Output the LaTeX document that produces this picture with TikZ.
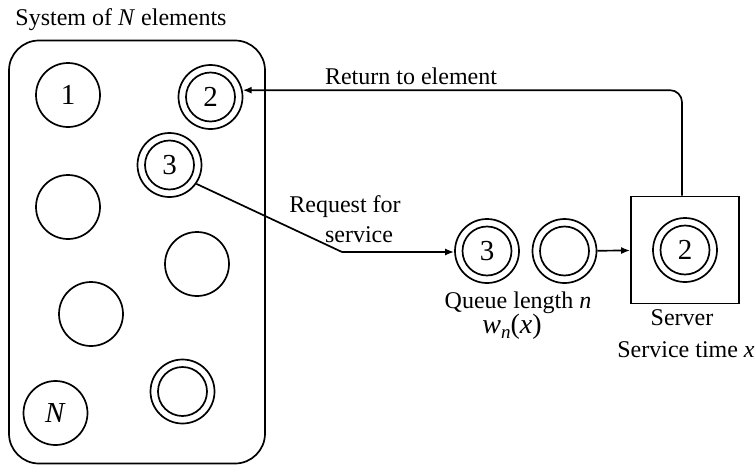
\documentclass[tikz,border=0pt]{standalone}
\usepackage{fontspec}
\setmainfont{Liberation Serif}
\usetikzlibrary{arrows.meta}
\begin{document}
\begin{tikzpicture}[x=1pt,y=-1pt,
  lw/.style={line width=1.7pt},
  elem/.style={circle,draw,lw,minimum size=64pt,inner sep=0pt,font=\fontsize{29}{31}\selectfont},
  dbl/.style={elem,path picture={\draw[lw] (path picture bounding box.center) circle (24.5pt);}},
  lbl/.style={font=\fontsize{24}{30}\selectfont,inner sep=0pt},
  arr/.style={lw,-{Latex[length=9pt,width=7pt]}}]
\useasboundingbox (0,0) rectangle (755,466);
\node[lbl] (title) at (121,20) {System of \textit{N} elements};
\node[draw,lw,rounded corners=30pt,minimum width=256pt,minimum height=423pt,inner sep=0pt] (sys) at (137,252) {};
\node[elem] (c1) at (68,95) {1};
\node[dbl] (c2) at (210.5,97) {2};
\node[dbl] (c3) at (169.5,165) {3};
\node[elem] (c4) at (68,207) {};
\node[elem] (c5) at (197,264) {};
\node[elem] (c6) at (91,314) {};
\node[elem] (c7) at (55.5,413) {\textit{N}};
\node[dbl] (c8) at (182.5,391.5) {};
\node[dbl] (q1) at (487,251) {3};
\node[dbl] (q2) at (564.5,251) {};
\node[draw,lw,minimum width=108pt,minimum height=107pt,inner sep=0pt] (srv) at (685,250) {};
\node[dbl] (s2) at (685,250) {2};
\coordinate (bend) at (342,252);
\draw[lw] (c3.-35) -- (bend);
\draw[arr] (bend) -- (q1.west |- bend);
\draw[arr] (q2) -- (srv);
\draw[arr,rounded corners=12pt] ([xshift=-3pt]srv.north) |- (c2.12);
\node[lbl] (ret) at (411,76) {Return to element};
\node[lbl,anchor=base] (req1) at (345,212) {Request for};
\node[lbl,anchor=base] (req2) at (359,242) {service};
\node[lbl] (ql) at (518,303) {Queue length \textit{n}};
\node[inner sep=0pt,font=\fontsize{28}{30}\selectfont] (wn) at (512,327) {\textit{w}\raisebox{-0.35ex}{\fontsize{19}{20}\selectfont\textit{n}}(\textit{x})};
\node[lbl] (sv) at (682,318) {Server};
\node[lbl] (st) at (686,350) {Service time \textit{x}};
\end{tikzpicture}
\end{document}
